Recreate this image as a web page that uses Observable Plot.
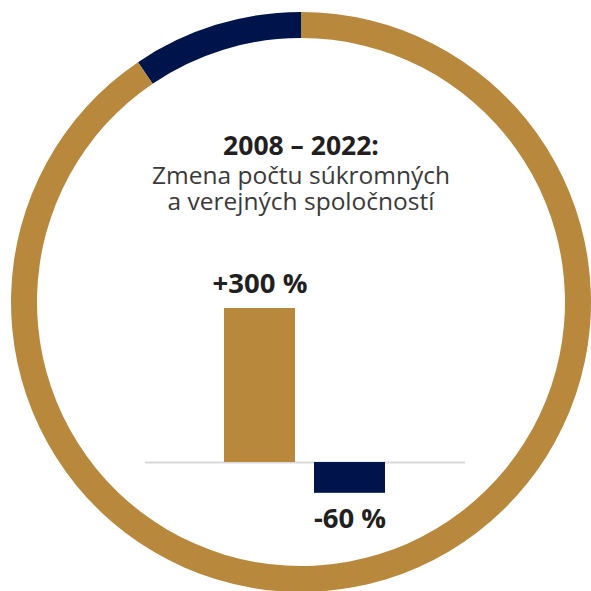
<!DOCTYPE html>
<html>
<head>
<meta charset="utf-8">
<script src="https://cdn.jsdelivr.net/npm/d3@7"></script>
<script src="https://cdn.jsdelivr.net/npm/@observablehq/plot@0.6"></script>
<style>
  html, body { margin: 0; padding: 0; background: #fff; }
  #chart { width: 591px; height: 591px; }
</style>
</head>
<body>
<div id="chart"></div>
<script>
// Ring segments (share of circle)
const ringLabels = ["navy", "gold"];
const ringValues = [9.5, 90.5];
// Bars
const barCategories = ["súkromné", "verejné"];
const barValues = [300, -60];
const barLabels = ["+300 %", "-60 %"];
const titleBold = "2008 – 2022:";
const titleRegular = "Zmena počtu súkromných\na verejných spoločností";

const GOLD = "#b8893d";
const NAVY = "#00144c";

const bars = barCategories.map((c, i) => ({category: c, value: barValues[i], label: barLabels[i]}));
const ring = ringLabels.map((k, i) => ({key: k, value: ringValues[i]}));

function ringMark(index, scales, values, dimensions) {
  const cx = 301, cy = 302, outer = 290, inner = 264;
  const arc = d3.arc().innerRadius(inner).outerRadius(outer);
  const g = d3.create("svg:g").attr("transform", `translate(${cx},${cy})`);
  const startAngle = -2 * Math.PI * ringValues[0] / d3.sum(ringValues);
  const pie = d3.pie().value(d => d.value).sort(null)
    .startAngle(startAngle).endAngle(startAngle + 2 * Math.PI);
  g.selectAll("path")
    .data(pie(ring))
    .join("path")
    .attr("d", arc)
    .attr("fill", d => d.data.key === "navy" ? NAVY : GOLD);
  return g.node();
}

const chart = Plot.plot({
  width: 591,
  height: 591,
  margin: 0,
  style: {fontFamily: "'Open Sans', sans-serif", background: "#fff"},
  x: {domain: barCategories, range: [204, 405], paddingInner: 0.21, paddingOuter: 0.21, axis: null},
  y: {domain: [0, 300], range: [462, 308], axis: null},
  marks: [
    ringMark,
    Plot.ruleY([0], {insetLeft: 145, insetRight: 126, stroke: "#d9d9d9", strokeWidth: 2}),
    Plot.barY(bars, {x: "category", y: "value", fill: (d) => d.value >= 0 ? GOLD : NAVY}),
    Plot.text(bars.filter(d => d.value >= 0), {x: "category", y: "value", text: "label", lineAnchor: "bottom", dy: -16, fontSize: 27.5, fontWeight: "bold", fill: "#231f20"}),
    Plot.text(bars.filter(d => d.value < 0), {x: "category", y: "value", text: "label", lineAnchor: "bottom", dy: 35, fontSize: 27.5, fontWeight: "bold", fill: "#231f20"}),
    Plot.text([titleBold], {frameAnchor: "top", dx: 5, dy: 135.5, lineAnchor: "top", fontSize: 26.5, fontWeight: "bold", fill: "#231f20"}),
    Plot.text([titleRegular], {frameAnchor: "top", dx: 5, dy: 164.5, lineAnchor: "top", fontSize: 24.5, lineHeight: 1.07, fill: "#3a3a3a"})
  ]
});
document.getElementById("chart").appendChild(chart);
</script>
</body>
</html>
